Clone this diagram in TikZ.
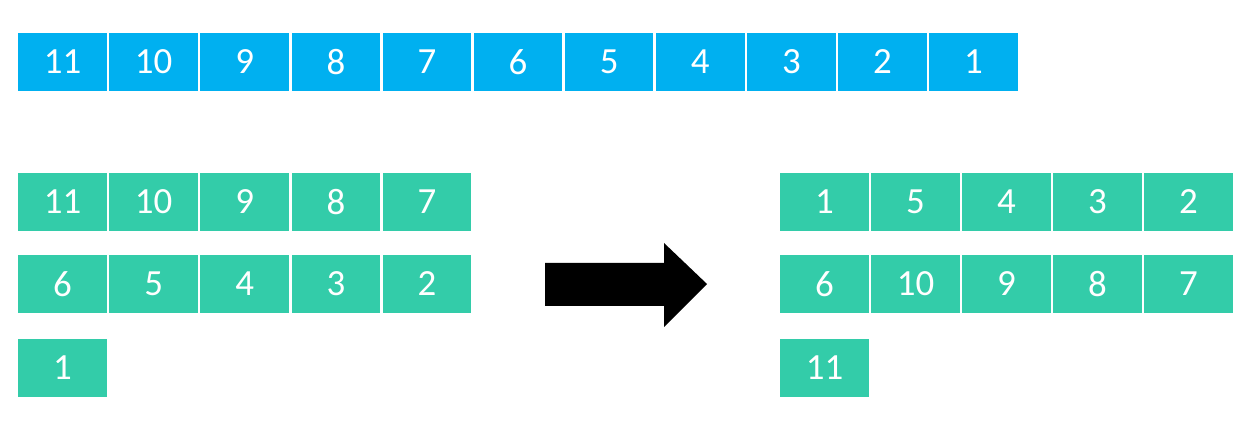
\documentclass[tikz,border=0pt]{standalone}
\usepackage{fontspec}
\setmainfont{Carlito}
\usepackage{tikz}
\definecolor{cellblue}{HTML}{00B0F0}
\definecolor{cellgreen}{HTML}{33CCA9}
\tikzset{
    cell/.style={rectangle, inner sep=0pt, minimum width=50.4pt, minimum height=32.9pt,
        text=white, font=\fontsize{21}{21}\selectfont},
    bluecell/.style={cell, fill=cellblue},
    greencell/.style={cell, fill=cellgreen}
}
\begin{document}
\begin{tikzpicture}[x=0.02cm, y=-0.02cm]

    \useasboundingbox (0,0) rectangle (1240,438);

    % Place the input row
    \foreach \v [count=\i] in {11,10,9,8,7,6,5,4,3,2,1}
        \node[bluecell] (t\i) at ({17+91.1*(\i-0.5)}, 62) {\v};

    % Place the groups before
    \foreach \v [count=\i] in {11,10,9,8,7}
        \node[greencell] (a\i) at ({17+91.1*(\i-0.5)}, 202) {\v};
    \foreach \v [count=\i] in {6,5,4,3,2}
        \node[greencell] (b\i) at ({17+91.1*(\i-0.5)}, 284) {\v};
    \node[greencell] (c1) at ({17+91.1*0.5}, 368) {1};

    % Place the groups after
    \foreach \v [count=\i] in {1,5,4,3,2}
        \node[greencell] (d\i) at ({779+91*(\i-0.5)}, 202) {\v};
    \foreach \v [count=\i] in {6,10,9,8,7}
        \node[greencell] (e\i) at ({779+91*(\i-0.5)}, 284) {\v};
    \node[greencell] (f1) at ({779+91*0.5}, 368) {11};

    % Draw the arrow
    \coordinate (tail) at (545,284);
    \coordinate (tip) at (707,284);
    \fill[black] (545,263) -- (664,263) -- (664,243) -- (tip) -- (664,327)
        -- (664,306) -- (545,306) -- cycle;

\end{tikzpicture}
\end{document}
